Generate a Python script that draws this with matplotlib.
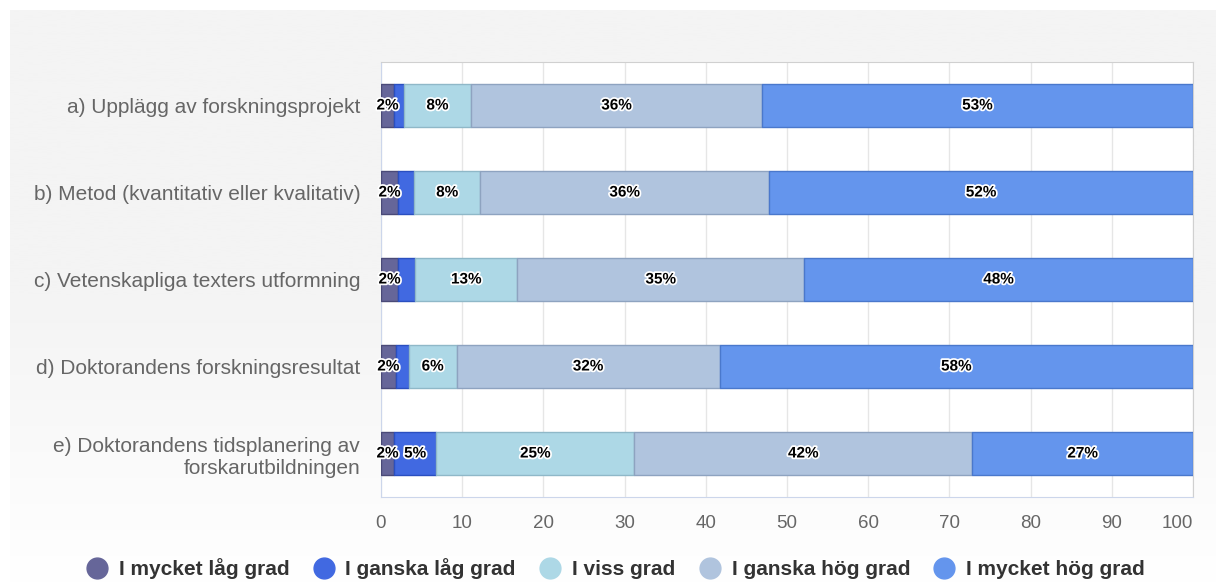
import numpy as np
import matplotlib
matplotlib.use("Agg")
import matplotlib.pyplot as plt
import matplotlib.patheffects as pe
from matplotlib.lines import Line2D
from matplotlib.colors import LinearSegmentedColormap

plt.rcParams['font.family'] = ['Liberation Sans', 'DejaVu Sans']

# data
categories = [
    "a) Upplägg av forskningsprojekt",
    "b) Metod (kvantitativ eller kvalitativ)",
    "c) Vetenskapliga texters utformning",
    "d) Doktorandens forskningsresultat",
    "e) Doktorandens tidsplanering av\nforskarutbildningen",
]
series_names = ["I mycket låg grad", "I ganska låg grad", "I viss grad",
                "I ganska hög grad", "I mycket hög grad"]
mycket_lag = [1.6, 2.1, 2.1, 1.8, 1.6]
ganska_lag = [1.2, 2.0, 2.1, 1.6, 5.2]
viss = [8.3, 8.1, 12.6, 5.9, 24.4]
ganska_hog = [35.8, 35.6, 35.3, 32.4, 41.6]
mycket_hog = [53.1, 52.2, 47.9, 58.3, 27.2]
# labels shown in the chart (small ones hidden)
labels = [
    ["2%", "", "8%", "36%", "53%"],
    ["2%", "", "8%", "36%", "52%"],
    ["2%", "", "13%", "35%", "48%"],
    ["2%", "", "6%", "32%", "58%"],
    ["2%", "5%", "25%", "42%", "27%"],
]
xticks = [0, 10, 20, 30, 40, 50, 60, 70, 80, 90, 100]

colors = ["#666699", "#4169e1", "#add8e6", "#b0c4de", "#6495ed"]
edges = ["#4a4a78", "#2a4fc0", "#8fb8c8", "#8ea3c0", "#4a78cc"]

fig = plt.figure(figsize=(12.16, 5.83), dpi=100)

# gray background panel with fade to white
bg = fig.add_axes([10/1216, 0, 1 - 10/1216, 1 - 10/583], zorder=-10)
grad = np.linspace(0, 1, 256).reshape(-1, 1)
cmap = LinearSegmentedColormap.from_list("bgfade", ["#ffffff", "#f4f4f4", "#f4f4f4"])
bg.imshow(grad, aspect="auto", cmap=cmap, extent=[0, 1, 0, 1], origin="lower")
bg.axis("off")

ax = fig.add_axes([381/1216, 1 - 497/583, (1193 - 381)/1216, (497 - 62)/583])
ax.set_facecolor("white")

data = [mycket_lag, ganska_lag, viss, ganska_hog, mycket_hog]
y = np.arange(len(categories))
left = np.zeros(len(categories))
for i, vals in enumerate(data):
    vals = np.array(vals)
    ax.barh(y, vals, left=left, height=0.5, color=colors[i], edgecolor=edges[i],
            linewidth=1, zorder=3)
    for j in range(len(categories)):
        txt = labels[j][i]
        if txt:
            ax.text(left[j] + vals[j] / 2, y[j], txt, ha="center", va="center",
                    fontsize=11, fontweight="bold", color="black", zorder=5,
                    path_effects=[pe.withStroke(linewidth=2.5, foreground="white")])
    left += vals

ax.set_xlim(0, 100)
ax.set_ylim(len(categories) - 0.5, -0.5)
ax.set_xticks(xticks)
ax.set_yticks(y)
ax.set_yticklabels(categories, fontsize=15, color="#666666", linespacing=1.2)
ax.tick_params(axis="x", labelsize=13.5, colors="#666666", length=0, pad=13)
ax.tick_params(axis="y", length=0, pad=15)
for t in ax.get_yticklabels():
    t.set_multialignment("right")
ax.get_xticklabels()[-1].set_horizontalalignment("right")
ax.xaxis.grid(True, color="#e6e6e6", linewidth=1, zorder=0)
ax.set_axisbelow(True)
for s in ax.spines.values():
    s.set_color("#d0d0d0")
ax.spines["left"].set_color("#ccd6eb")
ax.spines["bottom"].set_color("#ccd6eb")

handles = [Line2D([0], [0], marker="o", linestyle="", markersize=15,
                  markerfacecolor=c, markeredgecolor=c) for c in colors]
fig.legend(handles, series_names, loc="center", bbox_to_anchor=(0.502, 1 - 569/583),
           ncol=5, frameon=False, prop={"size": 15, "weight": "bold"},
           labelcolor="#333333", handletextpad=0.05, columnspacing=0.65)

plt.savefig("out.png", dpi=100)
